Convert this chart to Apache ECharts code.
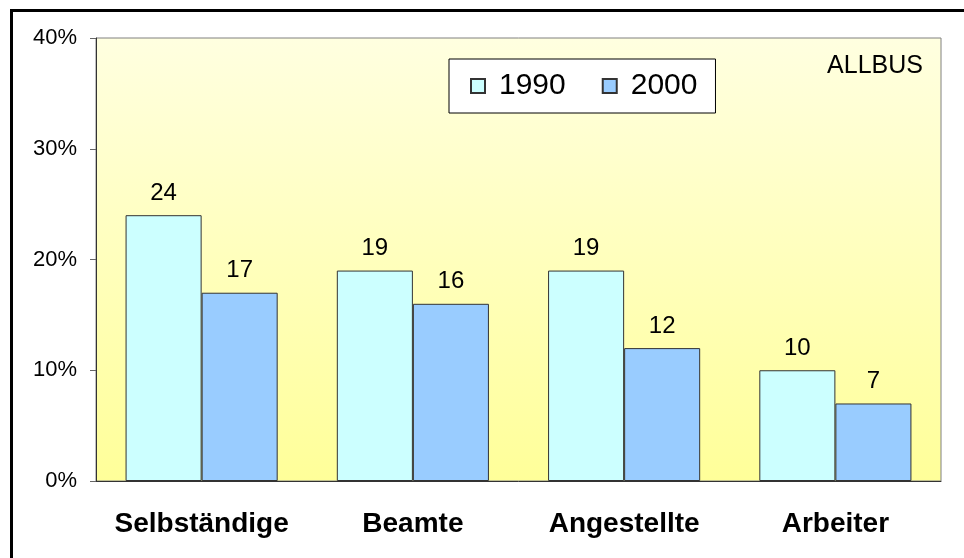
<!DOCTYPE html>
<html>
<head>
<meta charset="utf-8">
<script src="https://cdn.jsdelivr.net/npm/echarts@6/dist/echarts.min.js"></script>
<style>
  html, body { margin: 0; padding: 0; background: #fff; }
  #chart { width: 964px; height: 558px; }
</style>
</head>
<body>
<div id="chart"></div>
<script>
// Selbständige etc. - share in percent, ALLBUS 1990 vs 2000
var categories = ["Selbständige", "Beamte", "Angestellte", "Arbeiter"];
var years = ["1990", "2000"];
var values1990 = [24, 19, 19, 10];
var values2000 = [17, 16, 12, 7];
var yTicks = [0, 10, 20, 30, 40];

var myChart = echarts.init(document.getElementById("chart"));
var font = "'Liberation Sans', Arial, sans-serif";

var option = {
  animation: false,
  textStyle: { fontFamily: font },
  title: {
    text: "ALLBUS",
    right: 41,
    top: 54,
    padding: 0,
    textStyle: { fontSize: 25, fontWeight: "normal", color: "#000", fontFamily: font },
  },
  legend: {
    data: years,
    left: 449,
    top: 59,
    padding: [12, 18, 12, 21],
    backgroundColor: "#fff",
    borderColor: "#000",
    borderWidth: 1,
    itemWidth: 14,
    itemHeight: 14,
    itemGap: 36,
    icon: "rect",
    textStyle: { fontSize: 30, color: "#000", fontFamily: font, padding: [0, 0, 0, 9] },
  },
  grid: {
    left: 96,
    top: 38,
    right: 23,
    bottom: 77,
    show: true,
    borderColor: "#808080",
    borderWidth: 1,
    backgroundColor: new echarts.graphic.LinearGradient(0, 0, 0, 1, [
      { offset: 0, color: "#ffffe0" },
      { offset: 1, color: "#ffff99" },
    ]),
  },
  xAxis: {
    type: "category",
    data: categories,
    axisLine: { lineStyle: { color: "#333", width: 1 } },
    axisTick: { length: 8, lineStyle: { color: "#666" } },
    axisLabel: { interval: 0, fontSize: 28, fontWeight: "bold", color: "#000", margin: 29, fontFamily: font },
  },
  yAxis: {
    type: "value",
    min: yTicks[0],
    max: yTicks[yTicks.length - 1],
    interval: 10,
    splitLine: { show: false },
    axisLine: { show: true, lineStyle: { color: "#333", width: 1 } },
    axisTick: { show: true, length: 6, lineStyle: { color: "#666" } },
    axisLabel: { fontSize: 22, color: "#000", margin: 19, formatter: "{value}%", fontFamily: font },
  },
  series: [
    {
      name: years[0],
      type: "bar",
      data: values1990,
      barGap: "0%",
      barCategoryGap: "28%",
      itemStyle: { color: "#ccffff", borderColor: "#333", borderWidth: 1 },
      label: { show: true, position: "top", distance: 10, fontSize: 24, color: "#000", fontFamily: font },
    },
    {
      name: years[1],
      type: "bar",
      data: values2000,
      barGap: "0%",
      barCategoryGap: "28%",
      itemStyle: { color: "#99ccff", borderColor: "#333", borderWidth: 1 },
      label: { show: true, position: "top", distance: 10, fontSize: 24, color: "#000", fontFamily: font },
    },
  ],
  graphic: [
    {
      type: "rect",
      shape: { x: 11.5, y: 10.5, width: 1000, height: 600 },
      style: { fill: "none", stroke: "#000", lineWidth: 3 },
      silent: true,
    },
  ],
};

myChart.setOption(option);
</script>
</body>
</html>
